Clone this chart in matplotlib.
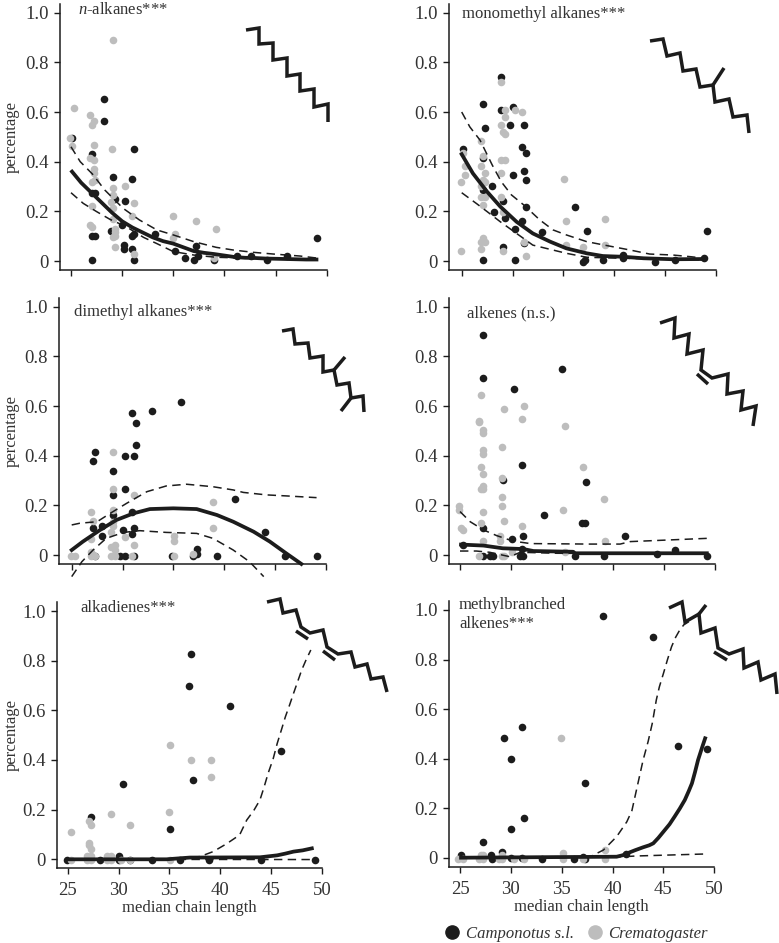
import matplotlib
matplotlib.use('Agg')
import matplotlib.pyplot as plt
from matplotlib.lines import Line2D

plt.rcParams['font.family'] = ['Liberation Serif', 'DejaVu Serif']
plt.rcParams['mathtext.fontset'] = 'custom'
plt.rcParams['mathtext.rm'] = 'Liberation Serif'
plt.rcParams['mathtext.it'] = 'Liberation Serif:italic'

W, H = 779, 943
TEXT = '#333333'
DARK = '#1c1c1c'
GREY = '#bdbdbd'

# n-alkanes
alk_cam_x = [28.2, 28.2, 25.1, 27.1, 31.2, 29.1, 31.0, 27.1, 27.3, 29.3, 30.3, 28.9, 30.0, 27.1, 27.3, 31.0, 31.2, 30.2, 30.2, 31.0, 33.2, 35.2, 36.1, 37.0, 37.2, 37.4, 39.0, 41.2, 42.6, 44.2, 46.1, 49.1, 27.1, 31.2]
alk_cam_y = [.654, .564, .497, .431, .452, .340, .332, .272, .272, .25, .241, .122, .145, .10, .10, .10, .107, .064, .048, .048, .107, .04, .011, .004, .062, .019, .004, .019, .019, .004, .019, .094, .004, .004]
alk_cre_x = [29.1, 25.3, 26.9, 27.2, 27.1, 24.9, 25.1, 27.2, 29.0, 26.9, 27.2, 27.2, 27.2, 27.1, 27.3, 29.1, 30.3, 29.1, 28.9, 31.2, 27.1, 29.1, 31.0, 29.1, 35.0, 37.2, 39.2, 26.9, 27.1, 29.3, 29.3, 29.1, 29.3, 29.3, 35.2, 35.0, 31.2, 39.0]
alk_cre_y = [.891, .616, .587, .565, .548, .497, .463, .466, .452, .416, .407, .369, .353, .319, .326, .294, .302, .266, .239, .235, .22, .212, .183, .168, .183, .16, .13, .145, .138, .13, .118, .095, .10, .056, .107, .093, .027, .011]
alk_fit_x = [25.1, 26, 27, 28, 29, 30, 31, 32, 33, 34, 35, 36, 37, 38, 39, 40, 41, 42, 43, 44, 45, 46, 47, 48, 49]
alk_fit_y = [.36, .315, .275, .235, .195, .16, .135, .115, .095, .08, .07, .055, .04, .033, .028, .022, .016, .013, .012, .01, .009, .008, .007, .006, .006]
alk_up_x = [25, 25.9, 27.1, 28.3, 30.1, 31.7, 33.4, 35, 37, 39.2, 40.9, 42.8, 44.8, 47.4, 49]
alk_up_y = [.46, .40, .35, .286, .212, .165, .125, .105, .078, .055, .044, .035, .028, .02, .012]
alk_lo_x = [25, 26.2, 27.5, 28.8, 30.4, 32.1, 33.4, 35, 37, 39.2, 42.5, 49]
alk_lo_y = [.275, .232, .199, .168, .138, .095, .07, .038, .024, .015, .011, .007]

# monomethyl alkanes
mono_cam_x = [28.9, 27.1, 28.9, 30, 27.3, 29.8, 31.1, 25.1, 30.9, 31.3, 27.1, 31.1, 30, 31.3, 28, 27.1, 29.1, 31.3, 36.2, 28.2, 29.3, 30.9, 30.2, 32.9, 37.3, 29.1, 31.1, 27.1, 30.2, 37.1, 36.9, 38.9, 40.9, 40.9, 44, 46, 48.8, 49.1]
mono_cam_y = [.742, .631, .608, .621, .534, .549, .549, .452, .459, .436, .413, .362, .348, .325, .302, .286, .243, .219, .219, .197, .174, .16, .13, .115, .122, .056, .071, .004, .004, .004, -.004, .004, .026, .011, -.004, .004, .011, .122]
mono_cre_x = [28.9, 29.3, 29.3, 30.2, 30.9, 28.9, 29.1, 29.3, 26.9, 25.1, 27.1, 28.9, 29.3, 25.3, 26.9, 25.3, 27.3, 28.9, 35.1, 24.9, 27.1, 26.9, 27.3, 26.9, 27.3, 28.9, 27.1, 29.1, 35.3, 39.1, 27.1, 26.9, 27.3, 26.9, 24.9, 29.1, 31.1, 31.3, 35.3, 36.9, 39.1]
mono_cre_y = [.72, .608, .579, .608, .6, .549, .519, .511, .482, .436, .421, .407, .407, .384, .384, .348, .354, .354, .33, .317, .326, .302, .317, .256, .256, .256, .227, .197, .16, .168, .093, .078, .078, .048, .04, .04, .078, .019, .063, .056, .063]
mono_fit_x = [25, 26.1, 27.5, 28.8, 30.4, 32, 33.7, 35.3, 37.3, 38.9, 40.9, 42.9, 45.8, 48.9]
mono_fit_y = [.43, .353, .279, .219, .158, .111, .078, .051, .031, .02, .017, .011, .007, .008]
mono_up_x = [25, 25.8, 26.8, 28, 28.9, 29.9, 31.1, 32.7, 34, 35.3, 37.3, 39.3, 41.6, 43.5, 45.8, 47.6, 48.9]
mono_up_y = [.6, .54, .487, .387, .319, .266, .226, .165, .125, .105, .078, .062, .044, .028, .024, .017, .011]
mono_lo_x = [25, 26.5, 27.5, 28.8, 30.4, 32, 33.7, 35.3, 37.3, 40.9, 48.9]
mono_lo_y = [.275, .23, .199, .158, .111, .064, .047, .031, .015, .011, .004]

# dimethyl alkanes
di_cam_x = [35.8, 32.9, 30.9, 31.3, 31.3, 27.3, 27.1, 30.2, 31.1, 29.1, 30.2, 29.1, 30.9, 29.1, 27.1, 28, 28, 30, 31.1, 30.9, 44, 41.1, 37.3, 37.3, 36.9, 39.3, 46, 49.1, 29.8, 30.2, 31.1, 27.3, 34.9]
di_cam_y = [.616, .579, .57, .533, .443, .415, .377, .399, .399, .34, .264, .242, .174, .16, .107, .115, .078, .101, .107, .086, .093, .227, .026, .003, -.004, -.004, -.004, -.004, -.004, -.004, -.004, -.004, -.004]
di_cre_x = [29.1, 29.1, 31.1, 29.1, 26.9, 27.1, 29.1, 29.1, 28.9, 38.9, 38.9, 30.2, 35.1, 35.1, 31.1, 29.3, 28.9, 26.9, 29.3, 26.9, 36.9, 24.9, 25.3, 26.9, 27.3, 28.9, 29.3, 30.9, 35.1]
di_cre_y = [.415, .264, .242, .183, .174, .137, .134, .115, .093, .212, .107, .071, .078, .056, .04, .04, .034, .063, .019, .011, .003, -.004, -.004, -.004, -.004, -.004, -.004, -.004, -.004]
di_fit_x = [25, 26.1, 27.8, 29.4, 31.1, 32.7, 35, 37.3, 39.3, 40.9, 42.9, 44.5, 46.1, 47.6]
di_fit_y = [.02, .054, .101, .141, .168, .185, .188, .185, .161, .134, .094, .054, .007, -.036]
di_up_x = [25, 25.8, 27.5, 28.8, 30.4, 32.4, 34.3, 36.3, 38.9, 40.9, 41.9, 44.2, 46.1, 49.1]
di_up_y = [.121, .128, .134, .168, .208, .255, .278, .285, .275, .262, .252, .242, .238, .231]
di_lo_x = [25, 26, 27.1, 28.4, 30.1, 31.7, 34.3, 37.3, 38.9, 40.9, 42.5, 43.9]
di_lo_y = [-.087, -.027, .02, .067, .091, .098, .091, .087, .067, .02, -.027, -.087]

# alkenes
ene_cam_x = [27.3, 27.3, 35, 30.3, 31.1, 29.2, 37.4, 33.2, 37, 37.3, 27.3, 31.2, 41.2, 30.1, 31.1, 25.3, 46.1, 44.3, 49.2, 39.1, 36.3, 31.2, 30.9, 27.9, 28.2, 27.3]
ene_cam_y = [.885, .713, .75, .667, .362, .301, .294, .161, .13, .13, .107, .078, .078, .063, .026, .04, .019, .004, -.004, -.004, -.004, -.004, -.004, -.004, -.004, -.004]
ene_cre_x = [27.1, 31.3, 29.3, 31.1, 26.9, 26.9, 27.3, 27.3, 35.3, 27.3, 27.3, 29.1, 27.1, 27.3, 37.1, 29.1, 27.3, 27.1, 27.3, 29.1, 29.1, 24.9, 24.9, 35.1, 39.1, 27.3, 29.3, 27.1, 31.1, 25.1, 25.3, 28.9, 28.9, 27.3, 39.2, 35.3, 30.1, 26.9, 29.1, 29.3]
ene_cre_y = [.646, .601, .587, .549, .541, .534, .503, .49, .519, .421, .408, .436, .354, .325, .354, .31, .279, .264, .264, .235, .197, .197, .183, .183, .227, .174, .138, .13, .115, .107, .101, .078, .056, .056, .056, .012, .011, -.004, -.004, -.004]
ene_fit_x = [25.1, 27.3, 29.2, 31.2, 32.2, 36.1, 36.3, 49.2]
ene_fit_y = [.042, .038, .027, .024, .016, .013, .007, .007]
ene_up_x = [25, 26, 27.3, 28.6, 30.2, 31.9, 37.7, 40.7, 41.7, 49.2]
ene_up_y = [.175, .134, .101, .078, .056, .046, .044, .044, .054, .067]
ene_lo_x = [25, 26.6, 27.9, 29.9, 30.9, 34.5, 49.2]
ene_lo_y = [.016, .016, .011, -.007, .011, .007, .003]

# alkadienes
dien_cam_x = [37.1, 36.9, 41, 46, 30.4, 37.3, 27.3, 35.1, 30, 28.2, 30, 31.1, 33.3, 36, 38.9, 44, 49.3, 24.9]
dien_cam_y = [.826, .698, .616, .436, .302, .318, .169, .123, .013, -.003, -.003, -.003, -.003, -.003, -.003, -.003, -.003, -.003]
dien_cre_x = [35.1, 37.1, 39.1, 39.1, 35, 29.3, 27.1, 27.3, 31.1, 25.3, 27.1, 27.1, 27.3, 26.9, 27.3, 28.9, 29.3, 25.3, 26.9, 27.3, 28.9, 29.3, 31.1, 35.1, 30.2]
dien_cre_y = [.459, .4, .4, .333, .191, .184, .154, .138, .138, .109, .064, .056, .042, .013, .013, .013, .013, -.003, -.003, -.003, -.003, -.003, -.003, -.003, -.003]
dien_fit_x = [25, 34.7, 37, 43.9, 45.6, 46.4, 47.2, 48.1, 49]
dien_fit_y = [0, 0, .007, .008, .016, .023, .031, .036, .044]
dien_up_x = [25, 36, 38, 39.3, 40.6, 41.9, 42.6, 43.3, 43.9, 44.3, 44.7, 45.2, 45.6, 46, 46.4, 46.8, 47.2, 47.6, 48, 48.4, 48.9]
dien_up_y = [0, .002, .011, .031, .062, .098, .158, .197, .239, .29, .346, .405, .467, .52, .574, .62, .668, .715, .762, .80, .843]
dien_lo_x = [25, 49]
dien_lo_y = [0, -.001]

# methylbranched alkenes
mbe_cam_x = [39.1, 44, 31.1, 29.3, 30, 37.3, 46.4, 49.3, 31.3, 30, 27.3, 29.1, 41.3, 25.1, 28, 37.1, 28.1, 30, 31.1, 33.1, 36.2, 37.3]
mbe_cam_y = [.974, .892, .526, .482, .4, .3, .451, .437, .16, .114, .062, .024, .016, .009, .009, .004, -.005, -.003, 0, -.005, -.005, -.005]
mbe_cre_x = [34.9, 39.3, 35.1, 29.1, 27.1, 27.3, 24.8, 25.3, 26.9, 27.3, 28.8, 29.1, 30.3, 31.3, 35.1, 37.1, 39.3]
mbe_cre_y = [.482, .032, .017, .011, .009, .009, -.005, -.005, -.005, -.005, -.005, -.005, -.005, -.005, -.005, -.005, -.005]
mbe_fit_x = [25.1, 40.4, 41, 41.4, 42.2, 43, 43.6, 44, 44.5, 45, 45.6, 46.1, 46.6, 47.1, 47.5, 47.8, 48.1, 48.4, 48.8, 49.1]
mbe_fit_y = [0, .004, .01, .017, .03, .042, .05, .058, .08, .105, .135, .166, .198, .233, .27, .3, .345, .394, .445, .482]
mbe_up_x = [25.1, 36, 37.8, 39.1, 40.4, 41.4, 41.9, 42.2, 42.6, 43, 43.5, 43.9, 44.3, 44.6, 45, 45.4, 45.8, 46.2, 46.6, 47, 47.5]
mbe_up_y = [0, .001, .004, .031, .085, .145, .19, .246, .32, .394, .47, .542, .637, .69, .744, .80, .852, .89, .919, .94, .953]
mbe_lo_x = [25.1, 40, 42.4, 49.1]
mbe_lo_y = [0, .002, .007, .015]

x_ticks = [25, 30, 35, 40, 45, 50]
y_ticks = [0, .2, .4, .6, .8, 1.0]
y_labels = ['0', '0.2', '0.4', '0.6', '0.8', '1.0']

fig = plt.figure(figsize=(W / 100, H / 100), dpi=100)


def panel(left, right, bottom, top, x25, x50, y0, y1, cam, cre, fit, up, lo, ylabel=False, xlabel=False):
    ax = fig.add_axes([left / W, 1 - bottom / H, (right - left) / W, (bottom - top) / H])
    xs = (x50 - x25) / 25
    ys = (y0 - y1)
    ax.set_xlim(25 - (x25 - left) / xs, 25 + (right - x25) / xs)
    ax.set_ylim(-(bottom - y0) / ys, (y0 - top) / ys)
    ax.scatter(cam[0], cam[1], s=30, color=DARK, lw=0, clip_on=False, zorder=2)
    ax.scatter(cre[0], cre[1], s=30, color=GREY, lw=0, clip_on=False, zorder=3)
    for c in (up, lo):
        ax.plot(c[0], c[1], color=DARK, lw=1.1, dashes=(5.5, 3.5), clip_on=False, zorder=4)
    ax.plot(fit[0], fit[1], color=DARK, lw=2.7, clip_on=False, zorder=5)
    ax.spines['top'].set_visible(False)
    ax.spines['right'].set_visible(False)
    ax.spines['left'].set_linewidth(1.1)
    ax.spines['bottom'].set_linewidth(1.1)
    ax.spines['left'].set_color(DARK)
    ax.spines['bottom'].set_color(DARK)
    ax.set_xticks(x_ticks)
    ax.set_yticks(y_ticks)
    ax.set_yticklabels(y_labels)
    ax.tick_params(axis='y', length=4.5, width=1, color=DARK, labelsize=13.5, labelcolor=TEXT, pad=3.5)
    ax.tick_params(axis='x', length=4, width=1, color=DARK, labelsize=13.5, labelcolor=TEXT, pad=6)
    ax.patch.set_alpha(0)
    if xlabel:
        ax.set_xlabel('median chain length', fontsize=12, color=TEXT, labelpad=1)
    else:
        ax.tick_params(axis='x', labelbottom=False)
    if ylabel:
        ax.set_ylabel('percentage', fontsize=12, color=TEXT, va='center')
        ax.yaxis.set_label_coords((12 - left) / (right - left), 0.5)
    return ax


panel(60, 327, 270, 4, 71, 326.7, 261, 12.7,
      (alk_cam_x, alk_cam_y), (alk_cre_x, alk_cre_y), (alk_fit_x, alk_fit_y), (alk_up_x, alk_up_y), (alk_lo_x, alk_lo_y), ylabel=True)
panel(448.7, 715.7, 270, 4, 461.7, 715.7, 261, 12.7,
      (mono_cam_x, mono_cam_y), (mono_cre_x, mono_cre_y), (mono_fit_x, mono_fit_y), (mono_up_x, mono_up_y), (mono_lo_x, mono_lo_y))
panel(58.7, 325.7, 564, 297.7, 71.7, 325.7, 555, 306.7,
      (di_cam_x, di_cam_y), (di_cre_x, di_cre_y), (di_fit_x, di_fit_y), (di_up_x, di_up_y), (di_lo_x, di_lo_y), ylabel=True)
panel(448.7, 715, 564, 297.7, 460, 715, 555, 306.7,
      (ene_cam_x, ene_cam_y), (ene_cre_x, ene_cre_y), (ene_fit_x, ene_fit_y), (ene_up_x, ene_up_y), (ene_lo_x, ene_lo_y))
panel(57, 322, 867.7, 601.7, 67.7, 322, 859.3, 611,
      (dien_cam_x, dien_cam_y), (dien_cre_x, dien_cre_y), (dien_fit_x, dien_fit_y), (dien_up_x, dien_up_y), (dien_lo_x, dien_lo_y), ylabel=True, xlabel=True)
panel(448.7, 714.3, 867, 600.7, 460, 714.3, 857.7, 610,
      (mbe_cam_x, mbe_cam_y), (mbe_cre_x, mbe_cre_y), (mbe_fit_x, mbe_fit_y), (mbe_up_x, mbe_up_y), (mbe_lo_x, mbe_lo_y), xlabel=True)

# overlay in picture pixels for the structure sketches and panel names
ov = fig.add_axes([0, 0, 1, 1])
ov.set_xlim(0, W)
ov.set_ylim(H, 0)
ov.axis('off')

chains = [
    [(246, 30), (259, 28), (259, 44), (273, 43), (273, 60), (287, 58), (287, 76), (300, 74), (300, 91), (314, 89), (314, 107), (328, 104), (328, 122)],
    [(650, 41), (663, 39), (667, 56), (680, 53), (683, 71), (696, 69), (700, 87), (713, 85), (715, 102), (729, 99), (733, 117), (747, 115), (749, 133)],
    [(713, 85), (724, 68)],
    [(282, 331), (293, 329), (295, 344), (308, 343), (310, 358), (323, 356), (323, 372), (334, 370), (337, 385), (349, 383), (351, 398), (363, 396), (364, 412)],
    [(334, 370), (345, 357)],
    [(351, 398), (341, 411)],
    [(660, 323), (675, 318), (674, 338), (689, 334), (687, 354), (703, 350), (701, 370), (712, 378), (728, 374), (727, 394), (743, 391), (741, 410), (756, 406), (753, 426)],
    [(697, 374), (708, 384)],
    [(267, 602), (280, 599), (283, 613), (296, 610), (301, 627), (310, 633), (323, 630), (327, 647), (338, 654), (351, 652), (355, 667), (367, 664), (371, 679), (383, 677), (387, 692)],
    [(296, 631), (308, 639)],
    [(323, 651), (335, 660)],
    [(669, 608), (682, 602), (685, 622), (699, 614), (701, 633), (715, 628), (718, 648), (729, 654), (743, 649), (744, 668), (758, 662), (761, 680), (775, 674), (777, 694)],
    [(699, 614), (706, 605)],
    [(714, 652), (727, 660)],
]
for c in chains:
    ov.plot([p[0] for p in c], [p[1] for p in c], color=DARK, lw=2.5, solid_joinstyle='miter', solid_capstyle='butt', clip_on=False)

names = [
    (78, 10, r'$\mathit{n}$-alkanes***'),
    (462, 14, 'monomethyl alkanes***'),
    (74, 312, 'dimethyl alkanes***'),
    (467, 313, 'alkenes (n.s.)'),
    (80, 608, 'alkadienes***'),
    (459, 605, 'methylbranched'),
    (459, 624, 'alkenes***'),
]
for x, y, s in names:
    ov.text(x, y, s, fontsize=12, color=TEXT, ha='left', va='center')

handles = [
    Line2D([], [], ls='', marker='o', ms=9.5, mfc=DARK, mec=DARK, label='Camponotus s.l.'),
    Line2D([], [], ls='', marker='o', ms=9.5, mfc=GREY, mec=GREY, label='Crematogaster'),
]
fig.legend(handles=handles, ncol=2, frameon=False, loc='center', bbox_to_anchor=(574 / W, 1 - 934 / H),
           prop={'style': 'italic', 'size': 12}, labelcolor=TEXT, handletextpad=0.1, columnspacing=0.55, handlelength=1.4)

fig.savefig('out.png', dpi=100)
